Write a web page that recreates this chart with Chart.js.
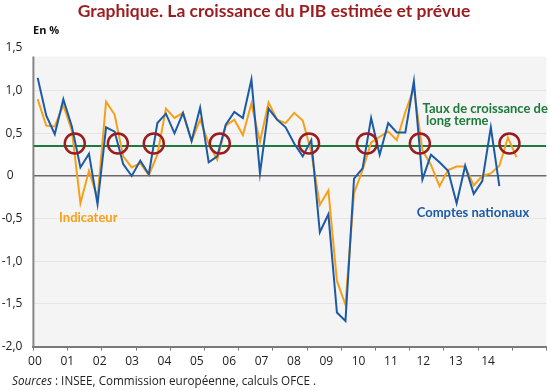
<!DOCTYPE html>
<html>
<head>
<meta charset="utf-8">
<script src="https://cdn.jsdelivr.net/npm/chart.js@4.4.1/dist/chart.umd.min.js"></script>
<style>
  html, body { margin: 0; padding: 0; background: #fff; }
  #wrap { width: 550px; height: 390px; position: relative; }
</style>
</head>
<body>
<div id="wrap"><canvas id="chart" width="550" height="390"></canvas></div>
<script>
// Quarterly GDP growth, France, 2000T1 ... 2014T1 (en %)
const firstYear = 2000;
const yearLabels = ['00', '01', '02', '03', '04', '05', '06', '07', '08', '09', '10', '11', '12', '13', '14'];

// Comptes nationaux : 2000T1 -> 2013T3
const comptesNationaux = [
    1.15, 0.71, 0.49, 0.90, 0.58, 0.10, 0.26, -0.33,
    0.57, 0.52, 0.14, 0.00, 0.18, 0.02, 0.62, 0.73,
    0.50, 0.74, 0.41, 0.80, 0.16, 0.23, 0.60, 0.75,
    0.68, 1.13, 0.03, 0.79, 0.66, 0.57, 0.38, 0.23,
    0.42, -0.66, -0.45, -1.60, -1.70, -0.03, 0.09, 0.68,
    0.25, 0.62, 0.51, 0.51, 1.11, -0.04, 0.25, 0.16,
    0.06, -0.32, 0.12, -0.21, -0.06, 0.57, -0.12
];

// Indicateur : 2000T1 -> 2014T1
const indicateur = [
    0.90, 0.59, 0.58, 0.83, 0.53, -0.32, 0.06, -0.26,
    0.87, 0.72, 0.23, 0.10, 0.15, 0.01, 0.25, 0.79,
    0.68, 0.74, 0.41, 0.66, 0.38, 0.19, 0.59, 0.66,
    0.48, 0.85, 0.40, 0.86, 0.66, 0.62, 0.74, 0.65,
    0.28, -0.34, -0.17, -1.23, -1.51, -0.20, 0.07, 0.39,
    0.46, 0.52, 0.42, 0.75, 1.03, 0.30, 0.13, -0.12,
    0.07, 0.11, 0.11, -0.11, 0.00, 0.03, 0.12, 0.45,
    0.22
];

const tauxLongTerme = 0.35;

// points where the indicator crosses the long-term rate (in years)
const croisements = [2001.21, 2002.47, 2003.52, 2005.45, 2008.06, 2009.75, 2011.30, 2013.92];
const croisementNiveau = 0.38;

const yTicks = [1.5, 1.0, 0.5, 0, -0.5, -1.0, -1.5, -2.0];

const BLUE = '#1c5aa6';
const ORANGE = '#f6a01a';
const GREEN = '#1d7a3b';
const RED = '#9b1c1f';

// quarter index -> position in years (middle of the quarter)
const quarterPos = (i) => firstYear + (i + 0.5) / 4;
const toPoints = (arr) => arr.map((v, i) => ({ x: quarterPos(i), y: v }));

const frFormat = (v) => {
    if (v === 0) return '0\u2007\u2009';
    return v.toFixed(1).replace('.', ',');
};

const decorPlugin = {
    id: 'decor',
    beforeDraw(chart) {
        const { ctx, chartArea, scales } = chart;
        const top = scales.y.getPixelForValue(1.4);
        ctx.save();
        ctx.fillStyle = '#f4f4f4';
        ctx.fillRect(chartArea.left, top, chartArea.right - chartArea.left, chartArea.bottom - top);
        ctx.restore();
    },
    beforeDatasetsDraw(chart) {
        const { ctx, chartArea, scales } = chart;
        const top = scales.y.getPixelForValue(1.4);
        ctx.save();
        ctx.strokeStyle = '#858585';
        ctx.lineWidth = 2;
        ctx.beginPath();
        ctx.moveTo(chartArea.left, top);
        ctx.lineTo(chartArea.left, chartArea.bottom);
        ctx.stroke();
        ctx.restore();
    },
    afterDraw(chart) {
        const { ctx, scales } = chart;
        const x = scales.x, y = scales.y;
        ctx.save();
        ctx.textBaseline = 'middle';

        // title
        ctx.fillStyle = RED;
        ctx.textAlign = 'center';
        ctx.font = 'bold 17.5px Lato';
        ctx.fillText('Graphique. La croissance du PIB estimée et prévue', 274, 11);

        // unit
        ctx.textAlign = 'left';
        ctx.fillStyle = '#111';
        ctx.font = 'bold 11px "Open Sans"';
        ctx.fillText('En %', 33, 31);

        // series labels
        ctx.font = 'bold 13px Lato';
        ctx.fillStyle = GREEN;
        ctx.fillText('Taux de croissance de', x.getPixelForValue(2011.38), y.getPixelForValue(0.79));
        ctx.fillText('long terme', x.getPixelForValue(2011.48), y.getPixelForValue(0.65));
        ctx.fillStyle = ORANGE;
        ctx.fillText('Indicateur', x.getPixelForValue(2000.75), y.getPixelForValue(-0.49));
        ctx.fillStyle = BLUE;
        ctx.fillText('Comptes nationaux', x.getPixelForValue(2011.21), y.getPixelForValue(-0.43));

        // sources
        ctx.fillStyle = '#222';
        ctx.font = 'italic 11.7px "Open Sans"';
        ctx.fillText('Sources', 12, 382);
        const w = ctx.measureText('Sources').width;
        ctx.font = '11.7px "Open Sans"';
        ctx.fillText(' : INSEE, Commission européenne, calculs OFCE .', 12 + w, 382);
        ctx.restore();
    }
};

new Chart(document.getElementById('chart'), {
    type: 'line',
    data: {
        datasets: [
            {
                label: 'Croisements',
                data: croisements.map(c => ({ x: c, y: croisementNiveau })),
                showLine: false,
                pointRadius: 10,
                pointHoverRadius: 10,
                pointBorderWidth: 2.5,
                pointBorderColor: RED,
                pointBackgroundColor: 'rgba(0,0,0,0)',
                order: 0
            },
            {
                label: 'Comptes nationaux',
                data: toPoints(comptesNationaux),
                borderColor: BLUE,
                borderWidth: 2,
                pointRadius: 0,
                tension: 0,
                order: 1
            },
            {
                label: 'Indicateur',
                data: toPoints(indicateur),
                borderColor: ORANGE,
                borderWidth: 2,
                pointRadius: 0,
                tension: 0,
                order: 2
            },
            {
                label: 'Taux de croissance de long terme',
                data: [{ x: firstYear, y: tauxLongTerme }, { x: firstYear + 15, y: tauxLongTerme }],
                borderColor: GREEN,
                borderWidth: 2,
                pointRadius: 0,
                order: 3
            }
        ]
    },
    options: {
        responsive: false,
        animation: false,
        events: [],
        layout: { autoPadding: false, padding: { top: 48, right: 3.6, bottom: 19.4, left: 0 } },
        plugins: {
            legend: { display: false },
            tooltip: { enabled: false }
        },
        scales: {
            // year boundaries: tick marks only
            x: {
                type: 'linear',
                weight: 0,
                min: firstYear,
                max: firstYear + 15,
                afterBuildTicks: (scale) => {
                    scale.ticks = [];
                    for (let k = 0; k <= 15; k++) scale.ticks.push({ value: firstYear + k });
                },
                afterFit: (scale) => { scale.height = 4; },
                ticks: { display: false },
                grid: {
                    drawOnChartArea: false,
                    drawTicks: true,
                    tickLength: 4,
                    color: '#7a7a7a'
                },
                border: { display: true, color: '#7a7a7a', width: 2 }
            },
            // year labels, spaced as in the original figure
            xl: {
                type: 'linear',
                position: 'bottom',
                weight: 1,
                min: 1999.951,
                max: 2015.803,
                afterBuildTicks: (scale) => {
                    scale.ticks = yearLabels.map((_, k) => ({ value: firstYear + k }));
                },
                afterFit: (scale) => { scale.height = 20; },
                ticks: {
                    padding: 4,
                    color: '#222',
                    font: { family: 'Open Sans', size: 12 },
                    maxRotation: 0,
                    autoSkip: false,
                    callback: (v) => yearLabels[Math.round(v) - firstYear] || ''
                },
                grid: { display: false, drawTicks: false },
                border: { display: false }
            },
            y: {
                min: -2,
                max: 1.5,
                afterBuildTicks: (scale) => {
                    scale.ticks = yTicks.map(v => ({ value: v }));
                },
                afterFit: (scale) => { scale.width = 33.4; },
                ticks: {
                    padding: 11,
                    color: '#222',
                    font: { family: 'Open Sans', size: 12 },
                    callback: (v) => frFormat(v)
                },
                grid: {
                    drawTicks: false,
                    color: (c) => {
                        const v = c.tick.value;
                        if (v === 0) return '#6a6a6a';
                        if (v >= 1.5 || v <= -2) return 'rgba(0,0,0,0)';
                        return '#e5e5e5';
                    },
                    lineWidth: (c) => c.tick.value === 0 ? 1.5 : 1
                },
                border: { display: false }
            }
        }
    },
    plugins: [decorPlugin]
});
</script>
</body>
</html>
